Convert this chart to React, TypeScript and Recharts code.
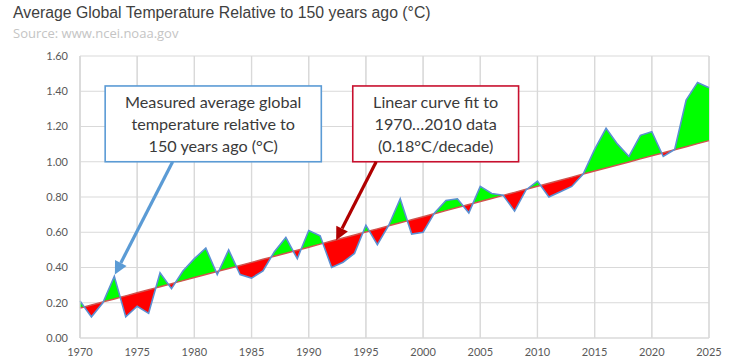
import React from 'react';
import {
  ComposedChart,
  Area,
  Line,
  XAxis,
  YAxis,
  CartesianGrid,
  ReferenceArea,
  ReferenceLine,
} from 'recharts';

// ---- data ----
const years = [
  1970, 1971, 1972, 1973, 1974, 1975, 1976, 1977, 1978, 1979,
  1980, 1981, 1982, 1983, 1984, 1985, 1986, 1987, 1988, 1989,
  1990, 1991, 1992, 1993, 1994, 1995, 1996, 1997, 1998, 1999,
  2000, 2001, 2002, 2003, 2004, 2005, 2006, 2007, 2008, 2009,
  2010, 2011, 2012, 2013, 2014, 2015, 2016, 2017, 2018, 2019,
  2020, 2021, 2022, 2023, 2024, 2025,
];
const temps = [
  0.21, 0.12, 0.2, 0.35, 0.12, 0.18, 0.14, 0.37, 0.28, 0.38,
  0.45, 0.51, 0.36, 0.5, 0.36, 0.34, 0.38, 0.49, 0.57, 0.45,
  0.61, 0.58, 0.4, 0.43, 0.48, 0.64, 0.53, 0.64, 0.79, 0.59,
  0.6, 0.71, 0.78, 0.79, 0.71, 0.86, 0.82, 0.81, 0.72, 0.84,
  0.89, 0.8, 0.83, 0.86, 0.93, 1.07, 1.19, 1.1, 1.03, 1.15,
  1.17, 1.03, 1.07, 1.35, 1.45, 1.42,
];
const trendYears = [1970, 2025];
const trendValues = [0.17, 1.12];

const xTicks = [1970, 1975, 1980, 1985, 1990, 1995, 2000, 2005, 2010, 2015, 2020, 2025];
const yTicks = [0, 0.2, 0.4, 0.6, 0.8, 1.0, 1.2, 1.4, 1.6];

const titleText = 'Average Global Temperature Relative to 150 years ago (°C)';
const sourceText = 'Source: www.ncei.noaa.gov';
const blueNote = ['Measured average global', 'temperature relative to', '150 years ago (°C)'];
const redNote = ['Linear curve fit to', '1970…2010 data', '(0.18°C/decade)'];

// annotation anchors (data coordinates)
const blueBox = { x1: 1972.2, x2: 1991.1, y1: 1.0, y2: 1.43 };
const redBox = { x1: 1993.85, x2: 2008.35, y1: 1.0, y2: 1.43 };
const blueArrow = [{ x: 1978.1, y: 1.0 }, { x: 1973.05, y: 0.36 }];
const redArrow = [{ x: 1995.9, y: 1.0 }, { x: 1992.4, y: 0.555 }];

// ---- derived table ----
const trendAt = (yr: number) =>
  trendValues[0] +
  ((trendValues[1] - trendValues[0]) * (yr - trendYears[0])) / (trendYears[1] - trendYears[0]);

type Row = {
  year: number;
  actual: number | null;
  trend: number;
  above: [number, number];
  below: [number, number];
};

const rows: Row[] = [];
years.forEach((yr, i) => {
  const a = temps[i];
  const t = trendAt(yr);
  rows.push({
    year: yr,
    actual: a,
    trend: t,
    above: [t, Math.max(a, t)],
    below: [Math.min(a, t), t],
  });
  if (i < years.length - 1) {
    const d0 = a - t;
    const nYr = years[i + 1];
    const d1 = temps[i + 1] - trendAt(nYr);
    if ((d0 > 0 && d1 < 0) || (d0 < 0 && d1 > 0)) {
      const f = d0 / (d0 - d1);
      const cy = yr + f * (nYr - yr);
      const ct = trendAt(cy);
      rows.push({ year: cy, actual: null, trend: ct, above: [ct, ct], below: [ct, ct] });
    }
  }
});

const textFont = 'Lato, "Open Sans", sans-serif';
const yMin = yTicks[0];
const yMax = yTicks[yTicks.length - 1];
const xMin = xTicks[0];
const xMax = xTicks[xTicks.length - 1];

// vertical gridline drawn at the left or right edge of a hairline-wide reference band
const vGridShape = (atRight: boolean) => (props: any) => {
  const { x, y, width, height } = props;
  const gx = atRight ? x + width : x;
  return <line x1={gx} y1={y} x2={gx} y2={y + height} stroke="#d9d9d9" strokeWidth={1.2} />;
};

const arrowShape = (color: string) => (props: any) => {
  const { x1, y1, x2, y2 } = props;
  const dx = x2 - x1;
  const dy = y2 - y1;
  const len = Math.hypot(dx, dy) || 1;
  const ux = dx / len;
  const uy = dy / len;
  const head = 13;
  const half = 6.5;
  const bx = x2 - ux * head;
  const by = y2 - uy * head;
  return (
    <g>
      <line x1={x1} y1={y1} x2={bx} y2={by} stroke={color} strokeWidth={3.2} />
      <polygon
        points={`${x2},${y2} ${bx - uy * half},${by + ux * half} ${bx + uy * half},${by - ux * half}`}
        fill={color}
      />
    </g>
  );
};

const noteShape = (color: string, lines: string[]) => (props: any) => {
  const { x, y, width, height } = props;
  const cx = x + width / 2;
  const cy = y + height / 2;
  return (
    <g>
      <rect x={x} y={y} width={width} height={height} fill="#ffffff" stroke={color} strokeWidth={1.6} />
      {lines.map((ln, i) => (
        <text
          key={i}
          x={cx}
          y={cy + (i - 1) * 22}
          textAnchor="middle"
          dominantBaseline="central"
          fontFamily={textFont}
          fontSize={16.2}
          fill="#3a3a3a"
        >
          {ln}
        </text>
      ))}
    </g>
  );
};

export default function App() {
  return (
    <div style={{ position: 'absolute', left: 0, top: 0, width: 733, height: 362, background: '#fff' }}>
      <div
        style={{
          position: 'absolute',
          left: 13,
          top: 4,
          fontFamily: '"Liberation Sans", Arial, sans-serif',
          fontSize: 15.8,
          color: '#404040',
          whiteSpace: 'nowrap',
        }}
      >
        {titleText}
      </div>
      <div
        style={{
          position: 'absolute',
          left: 13,
          top: 24,
          fontFamily: '"Open Sans", sans-serif',
          fontSize: 13,
          color: '#c4c4c4',
          whiteSpace: 'nowrap',
        }}
      >
        {sourceText}
      </div>
      <div style={{ position: 'absolute', left: 0, top: 0 }}>
        <ComposedChart
          width={733}
          height={362}
          data={rows}
          margin={{ top: 56, right: 24, bottom: 0, left: 10 }}
        >
          <CartesianGrid stroke="#d9d9d9" strokeWidth={1.2} />
          {xTicks.map((t) => {
            const atRight = t === xMax;
            const a = atRight ? t - 0.05 : t;
            const b = atRight ? t : t + 0.05;
            return (
              <ReferenceArea
                key={`g${t}`}
                x1={a}
                x2={b}
                y1={yMin}
                y2={yMax}
                ifOverflow="visible"
                shape={vGridShape(atRight)}
              />
            );
          })}
          <XAxis
            type="number"
            dataKey="year"
            domain={[xMin, xMax]}
            ticks={xTicks}
            interval={0}
            height={24}
            tickLine={false}
            axisLine={{ stroke: '#d9d9d9', strokeWidth: 1.2 }}
            tick={{ fontFamily: textFont, fontSize: 11, fill: '#595959' }}
            tickMargin={4}
          />
          <YAxis
            type="number"
            domain={[yMin, yMax]}
            ticks={yTicks}
            interval={0}
            width={70}
            tickLine={false}
            axisLine={{ stroke: '#d9d9d9', strokeWidth: 1.2 }}
            tick={{ fontFamily: textFont, fontSize: 11, fill: '#595959' }}
            tickMargin={6}
            tickFormatter={(v: number) => v.toFixed(2)}
          />
          <Area
            type="linear"
            dataKey="above"
            stroke="none"
            fill="#00ff00"
            fillOpacity={1}
            isAnimationActive={false}
            activeDot={false}
          />
          <Area
            type="linear"
            dataKey="below"
            stroke="none"
            fill="#ff0000"
            fillOpacity={1}
            isAnimationActive={false}
            activeDot={false}
          />
          <Line
            type="linear"
            dataKey="trend"
            stroke="#d0534f"
            strokeWidth={1.5}
            dot={false}
            isAnimationActive={false}
          />
          <Line
            type="linear"
            dataKey="actual"
            stroke="#5b8fd2"
            strokeWidth={1.6}
            dot={false}
            connectNulls
            isAnimationActive={false}
          />
          <ReferenceArea {...blueBox} shape={noteShape('#5b9bd5', blueNote)} />
          <ReferenceArea {...redBox} shape={noteShape('#c8102e', redNote)} />
          <ReferenceLine segment={blueArrow} shape={arrowShape('#5b9bd5')} />
          <ReferenceLine segment={redArrow} shape={arrowShape('#b00000')} />
        </ComposedChart>
      </div>
    </div>
  );
}
